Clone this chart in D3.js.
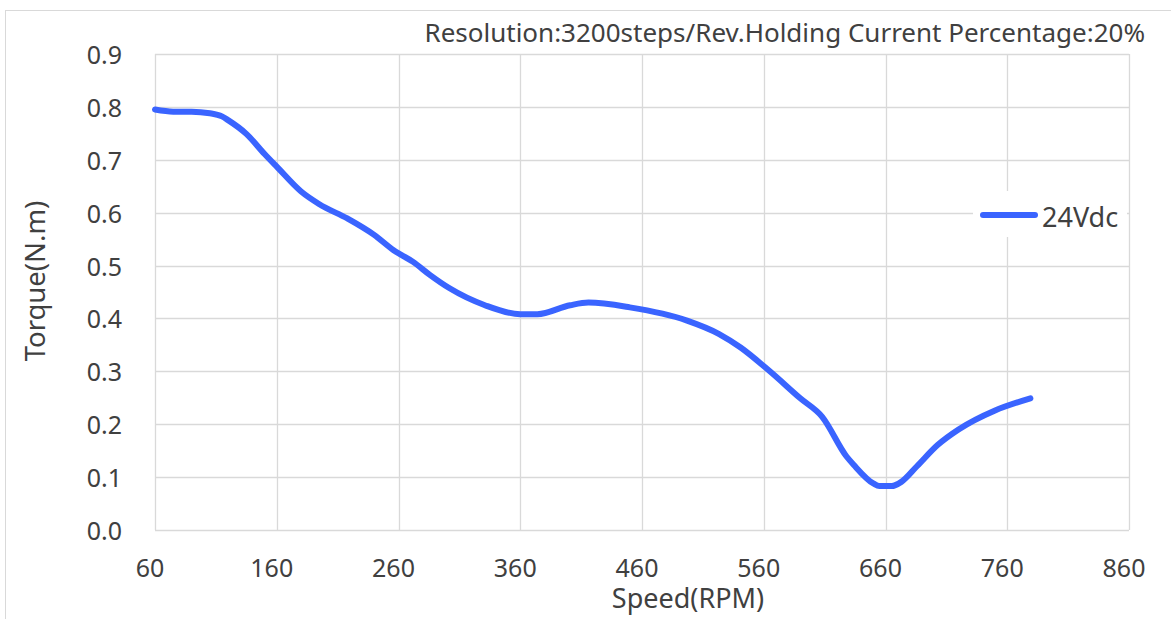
<!DOCTYPE html>
<html>
<head>
<meta charset="utf-8">
<script src="https://cdn.jsdelivr.net/npm/d3@7"></script>
<style>
  body { margin: 0; background: #fff; }
  text { font-family: "Noto Sans", "Open Sans", sans-serif; fill: #404040; }
</style>
</head>
<body>
<div id="chart"></div>
<script>
// speed (RPM) and torque (N.m)
const speed = [60, 75, 90, 105, 115, 120, 135, 150, 160, 180, 195, 218, 240, 256, 272, 286, 302, 331, 360, 374,
    401, 416, 450, 497, 523, 541, 565, 590, 608, 628, 634, 650, 655, 665, 673, 686, 703, 720, 750, 779];
const torque = [0.795, 0.791, 0.791, 0.788, 0.782, 0.775, 0.749, 0.711, 0.687, 0.640, 0.616, 0.589, 0.558, 0.529, 0.507, 0.482, 0.457, 0.425, 0.408, 0.408,
    0.425, 0.430, 0.421, 0.396, 0.371, 0.345, 0.300, 0.249, 0.214, 0.139, 0.123, 0.088, 0.083, 0.083, 0.091, 0.121, 0.161, 0.190, 0.226, 0.249];
const xTicks = [60, 160, 260, 360, 460, 560, 660, 760, 860];
const yTicks = [0, 0.1, 0.2, 0.3, 0.4, 0.5, 0.6, 0.7, 0.8, 0.9];
const seriesName = '24Vdc';
const title = 'Resolution:3200steps/Rev.Holding Current Percentage:20%';

const width = 1171, height = 619;
const plot = { left: 155, right: 1129, top: 54, bottom: 530 };
const gridColor = '#d9d9d9';
const lineColor = '#3a64ff';

var svg = d3.select('#chart')
    .append('svg')
    .attr('width', width)
    .attr('height', height);

// outer frame (runs off the right and bottom edges)
svg.append('rect')
    .attr('x', 5.5).attr('y', 10.5)
    .attr('width', width + 20).attr('height', height + 20)
    .style('fill', 'none')
    .style('stroke', gridColor);

var x = d3.scaleLinear().domain([60, 860]).range([plot.left, plot.right]);
var y = d3.scaleLinear().domain([0, 0.9]).range([plot.bottom, plot.top]);

var grid = svg.append('g');
grid.selectAll('.vline')
    .data(xTicks)
    .enter()
    .append('line')
    .attr('x1', d => Math.round(x(d)) + 0.5)
    .attr('x2', d => Math.round(x(d)) + 0.5)
    .attr('y1', plot.top)
    .attr('y2', plot.bottom)
    .style('stroke', gridColor)
    .style('stroke-width', 1.3);
grid.selectAll('.hline')
    .data(yTicks)
    .enter()
    .append('line')
    .attr('x1', plot.left)
    .attr('x2', plot.right)
    .attr('y1', d => Math.round(y(d)) + 0.5)
    .attr('y2', d => Math.round(y(d)) + 0.5)
    .style('stroke', gridColor)
    .style('stroke-width', 1.3);

// axis labels
svg.append('g')
    .selectAll('text')
    .data(xTicks)
    .enter()
    .append('text')
    .attr('x', d => x(d) - 5)
    .attr('y', 577)
    .attr('text-anchor', 'middle')
    .style('font-size', '25px')
    .text(d => d);
svg.append('g')
    .selectAll('text')
    .data(yTicks)
    .enter()
    .append('text')
    .attr('x', 122)
    .attr('y', d => y(d) + 10)
    .attr('text-anchor', 'end')
    .style('font-size', '25px')
    .text(d => d3.format('.1f')(d));

svg.append('text')
    .attr('x', 688)
    .attr('y', 608)
    .attr('text-anchor', 'middle')
    .style('font-size', '27px')
    .text('Speed(RPM)');
svg.append('text')
    .attr('transform', 'translate(45,281) rotate(-90)')
    .attr('text-anchor', 'middle')
    .style('font-size', '27.5px')
    .text('Torque(N.m)');

svg.append('text')
    .attr('x', 1145)
    .attr('y', 42)
    .attr('text-anchor', 'end')
    .style('font-size', '26px')
    .text(title);

// curve
var line = d3.line()
    .x((d, i) => x(speed[i]))
    .y(d => y(d))
    .curve(d3.curveMonotoneX);
svg.append('path')
    .attr('d', line(torque))
    .style('fill', 'none')
    .style('stroke', lineColor)
    .style('stroke-width', 6)
    .style('stroke-linecap', 'round')
    .style('stroke-linejoin', 'round');

// legend
var legend = svg.append('g');
legend.append('rect')
    .attr('x', 973).attr('y', 191)
    .attr('width', 154).attr('height', 46)
    .style('fill', '#fff');
legend.append('line')
    .attr('x1', 983).attr('x2', 1035)
    .attr('y1', 215).attr('y2', 215)
    .style('stroke', lineColor)
    .style('stroke-width', 6)
    .style('stroke-linecap', 'round');
legend.append('text')
    .attr('x', 1042)
    .attr('y', 227)
    .style('font-size', '27px')
    .text(seriesName);
</script>
</body>
</html>
